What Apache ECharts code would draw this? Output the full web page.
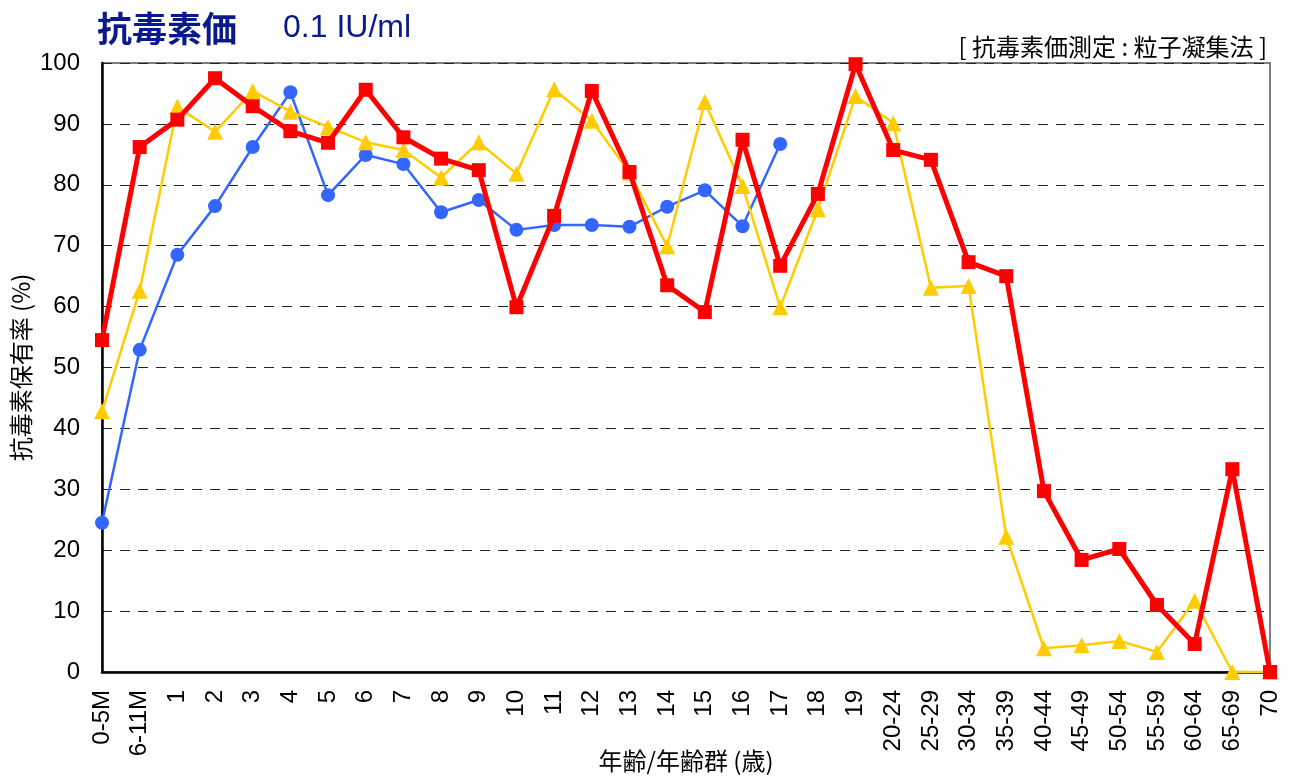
<!DOCTYPE html>
<html>
<head>
<meta charset="utf-8">
<script src="https://cdn.jsdelivr.net/npm/echarts@6/dist/echarts.min.js"></script>
<style>
html,body{margin:0;padding:0;background:#fff;}
#chart{width:1290px;height:779px;}
</style>
</head>
<body>
<div id="chart"></div>
<script>
const categories = ['0-5M','6-11M','1','2','3','4','5','6','7','8','9','10','11','12','13','14','15','16','17','18','19','20-24','25-29','30-34','35-39','40-44','45-49','50-54','55-59','60-64','65-69','70'];
const redValues = [54.5,86.2,90.7,97.5,92.9,88.8,86.9,95.6,87.8,84.3,82.4,59.9,74.9,95.4,82.1,63.5,59.1,87.4,66.7,78.5,99.8,85.7,84.1,67.3,65.0,29.7,18.4,20.2,11.0,4.6,33.3,0];
const yellowValues = [42.8,62.6,92.8,88.7,95.4,92.0,89.5,87.0,85.7,81.2,87.0,81.8,95.7,90.5,82.0,69.9,93.6,79.8,59.9,76.0,94.6,90.1,63.1,63.4,22.2,3.9,4.4,5.1,3.3,11.7,0,0];
const blueValues = [24.5,52.9,68.5,76.5,86.2,95.2,78.3,84.9,83.4,75.5,77.5,72.6,73.4,73.4,73.1,76.4,79.1,73.2,86.7,null,null,null,null,null,null,null,null,null,null,null,null,null];
const yTicks = [0,10,20,30,40,50,60,70,80,90,100];

const FONT = '"Liberation Sans", Arial, "Noto Sans CJK JP", sans-serif';
const CJK = '"Noto Sans CJK JP", sans-serif';
const chart = echarts.init(document.getElementById('chart'), null, {renderer:'canvas'});
chart.setOption({
  animation:false,
  backgroundColor:'#fff',
  textStyle:{fontFamily:FONT},
  title:[
    {text:'{a|抗毒素価}{b|0.1 IU/ml}', left:92, top:6,
     textStyle:{rich:{
       a:{fontSize:35,fontWeight:'bold',color:'#0a1a8c',fontFamily:CJK},
       b:{fontSize:32,fontWeight:'normal',color:'#0a1a8c',fontFamily:FONT,padding:[0,0,0,46]}
     }}},
    {text:'[ 抗毒素価測定 : 粒子凝集法 ]', right:18, top:30,
     textStyle:{fontSize:24,fontWeight:'normal',color:'#000',fontFamily:CJK}}
  ],
  grid:{left:102,right:20,top:63,bottom:107,show:true,borderColor:'#555',borderWidth:1.5,
        containLabel:false,outerBoundsMode:'none'},
  xAxis:{
    type:'category', data:categories, boundaryGap:false,
    name:'年齢/年齢群 (歳)', nameLocation:'middle', nameGap:77, nameMoveOverlap:false,
    nameTextStyle:{fontSize:24,color:'#000',fontFamily:CJK},
    axisLine:{lineStyle:{color:'#000',width:2.5}},
    axisTick:{show:false},
    axisLabel:{interval:0,rotate:90,fontSize:24,color:'#000',margin:18,fontFamily:FONT},
    splitLine:{show:false}
  },
  yAxis:{
    type:'value', min:0, max:100, interval:10,
    name:'抗毒素保有率 (%)', nameLocation:'middle', nameGap:69, nameRotate:90, nameMoveOverlap:false,
    nameTextStyle:{fontSize:24,color:'#000',fontFamily:CJK},
    axisLine:{show:true,lineStyle:{color:'#000',width:2.5}},
    axisTick:{show:false},
    axisLabel:{fontSize:24,color:'#000',margin:22,fontFamily:FONT,
      formatter:function(v){return yTicks.indexOf(v)>=0?String(v):'';}},
    splitLine:{show:true,lineStyle:{color:'#222',type:[10,8],width:1.2}}
  },
  series:[
    {name:'blue',type:'line',data:blueValues,symbol:'circle',symbolSize:14,
     lineStyle:{color:'#3366ff',width:2.5},itemStyle:{color:'#3366ff'},connectNulls:false,z:2},
    {name:'yellow',type:'line',data:yellowValues,symbol:'triangle',symbolSize:16,
     lineStyle:{color:'#ffcc00',width:2.5},itemStyle:{color:'#ffcc00'},z:3},
    {name:'red',type:'line',data:redValues,symbol:'rect',symbolSize:14,
     lineStyle:{color:'#ff0000',width:5},itemStyle:{color:'#ff0000'},z:4}
  ]
});
</script>
</body>
</html>
